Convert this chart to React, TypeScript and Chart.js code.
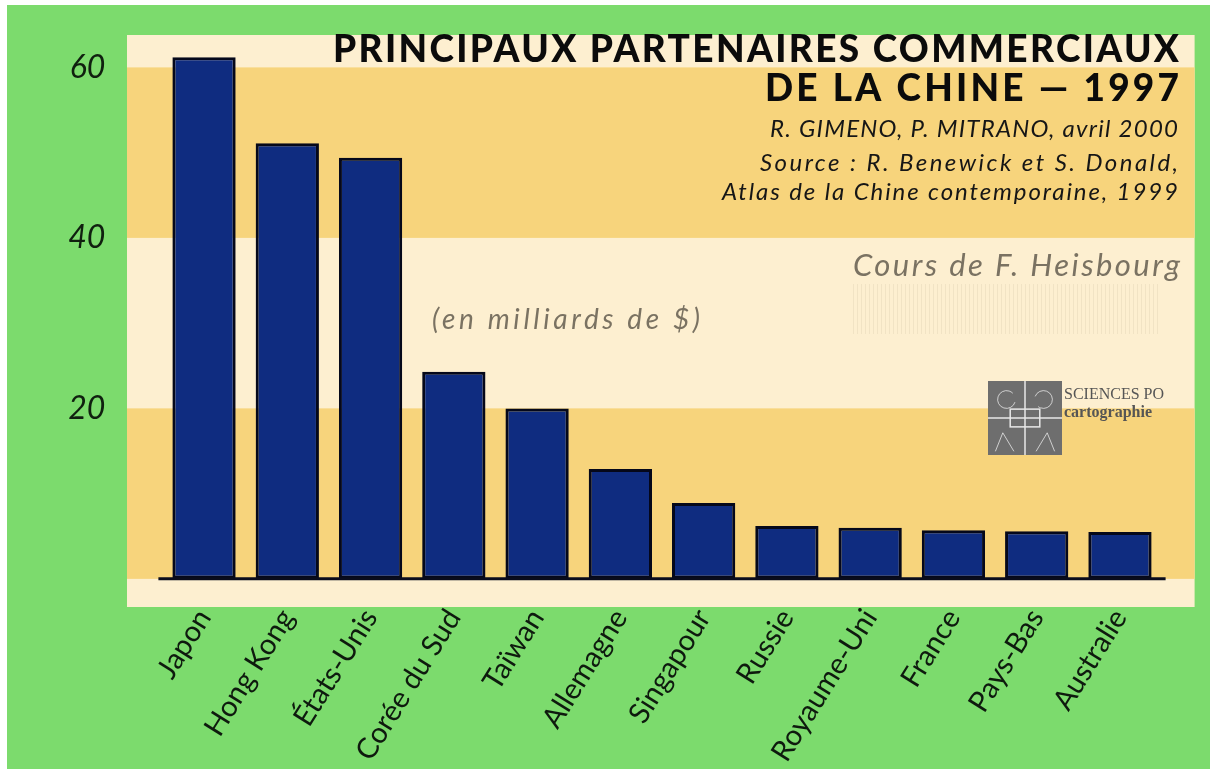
import { useEffect, useRef } from 'react';
import { Chart, registerables } from 'chart.js';

Chart.register(...registerables);

const CATEGORIES = [
  'Japon', 'Hong Kong', 'États-Unis', 'Corée du Sud', 'Taïwan', 'Allemagne',
  'Singapour', 'Russie', 'Royaume-Uni', 'France', 'Pays-Bas', 'Australie',
];
const VALUES = [61.2, 51.1, 49.4, 24.3, 20.0, 12.9, 8.9, 6.2, 6.0, 5.7, 5.6, 5.5];
const Y_TICKS = [20, 40, 60];
const Y_MIN = -3.3;
const Y_MAX = 63.8;
const YELLOW_BANDS = [[0, 20], [40, 60]];
const TITLE_LINES = ['PRINCIPAUX PARTENAIRES COMMERCIAUX', 'DE LA CHINE — 1997'];
const CREDIT_LINES = [
  'R. GIMENO, P. MITRANO, avril 2000',
  'Source : R. Benewick et S. Donald,',
  'Atlas de la Chine contemporaine, 1999',
];
const COURSE_TEXT = 'Cours de F. Heisbourg';
const UNIT_TEXT = '(en milliards de $)';
const LOGO_LINES = ['SCIENCES PO', 'cartographie'];

const FONT = 'Lato, "Noto Sans", sans-serif';
const OX = 7; // canvas offset in page
const OY = 5;

function fitText(ctx: CanvasRenderingContext2D, text: string, xRight: number, y: number, target: number) {
  (ctx as any).letterSpacing = '0px';
  const w = ctx.measureText(text).width;
  const n = Math.max(1, text.length - 1);
  let sp = (target - w) / n;
  sp = Math.max(-2, Math.min(6, sp));
  (ctx as any).letterSpacing = sp + 'px';
  ctx.textAlign = 'right';
  ctx.fillText(text, xRight + sp, y);
  (ctx as any).letterSpacing = '0px';
}

export default function App() {
  const ref = useRef<HTMLCanvasElement>(null);
  useEffect(() => {
    const canvas = ref.current!;
    const deco = {
      id: 'deco',
      beforeDraw(chart: any) {
        const { ctx, chartArea: ca } = chart;
        const ys = chart.scales.y;
        const left = ca.left - 35.4;
        const right = ca.right + 33;
        ctx.save();
        ctx.fillStyle = '#fdefd0';
        const top = ys.getPixelForValue(Y_MAX);
        const bot = ys.getPixelForValue(Y_MIN);
        ctx.fillRect(left, top, right - left, bot - top);
        ctx.fillStyle = '#f7d47c';
        for (const [a, b] of YELLOW_BANDS) {
          const y1 = ys.getPixelForValue(b);
          const y2 = ys.getPixelForValue(a);
          ctx.fillRect(left, y1, right - left, y2 - y1);
        }
        ctx.strokeStyle = 'rgba(215,200,170,0.3)';
        ctx.lineWidth = 1;
        for (let x = 853 - OX; x < 1160 - OX; x += 4) {
          ctx.beginPath();
          ctx.moveTo(x + 0.5, 284 - OY);
          ctx.lineTo(x + 0.5, 334 - OY);
          ctx.stroke();
        }
        ctx.restore();
      },
      afterDatasetsDraw(chart: any) {
        const { ctx, chartArea: ca } = chart;
        const y0 = chart.scales.y.getPixelForValue(0);
        ctx.save();
        ctx.strokeStyle = '#0a0c1c';
        ctx.lineWidth = 3;
        ctx.beginPath();
        ctx.moveTo(ca.left - 4, y0);
        ctx.lineTo(ca.right + 4, y0);
        ctx.stroke();
        ctx.restore();
      },
      afterDraw(chart: any) {
        const { ctx } = chart;
        ctx.save();
        ctx.textBaseline = 'alphabetic';
        ctx.fillStyle = '#0b0b0b';
        ctx.font = `900 37px ${FONT}`;
        fitText(ctx, TITLE_LINES[0], 1179 - OX, 62 - OY, 846);
        fitText(ctx, TITLE_LINES[1], 1179 - OX, 101 - OY, 414);
        ctx.fillStyle = '#161616';
        ctx.font = `italic 400 24px ${FONT}`;
        fitText(ctx, CREDIT_LINES[0], 1178 - OX, 137 - OY, 408);
        fitText(ctx, CREDIT_LINES[1], 1178 - OX, 171 - OY, 418);
        fitText(ctx, CREDIT_LINES[2], 1178 - OX, 200 - OY, 456);
        ctx.fillStyle = '#7a7262';
        ctx.font = `italic 400 31px ${FONT}`;
        fitText(ctx, COURSE_TEXT, 1180 - OX, 276 - OY, 327);
        ctx.font = `italic 400 28px ${FONT}`;
        fitText(ctx, UNIT_TEXT, 700 - OX, 329 - OY, 268);
        // logo
        const lx = 988 - OX, ly = 381 - OY, ls = 74;
        ctx.fillStyle = '#6e6e6e';
        ctx.fillRect(lx, ly, ls, ls);
        ctx.strokeStyle = '#e8e8e8';
        ctx.lineWidth = 1.5;
        ctx.beginPath();
        ctx.moveTo(lx + ls / 2, ly); ctx.lineTo(lx + ls / 2, ly + ls);
        ctx.moveTo(lx, ly + ls / 2); ctx.lineTo(lx + ls, ly + ls / 2);
        ctx.stroke();
        ctx.strokeRect(lx + ls * 0.3, ly + ls * 0.38, ls * 0.4, ls * 0.24);
        ctx.lineWidth = 1;
        ctx.strokeStyle = 'rgba(230,230,230,0.8)';
        ctx.beginPath();
        ctx.arc(lx + ls * 0.25, ly + ls * 0.25, ls * 0.12, 0.3, 5.5);
        ctx.stroke();
        ctx.beginPath();
        ctx.arc(lx + ls * 0.75, ly + ls * 0.25, ls * 0.12, 3.5, 8.5);
        ctx.stroke();
        ctx.beginPath();
        ctx.moveTo(lx + ls * 0.1, ly + ls * 0.95); ctx.lineTo(lx + ls * 0.2, ly + ls * 0.7); ctx.lineTo(lx + ls * 0.35, ly + ls * 0.95);
        ctx.moveTo(lx + ls * 0.65, ly + ls * 0.95); ctx.lineTo(lx + ls * 0.8, ly + ls * 0.7); ctx.lineTo(lx + ls * 0.9, ly + ls * 0.95);
        ctx.stroke();
        ctx.textAlign = 'left';
        ctx.fillStyle = '#555555';
        ctx.font = `400 16px "Liberation Serif", "DejaVu Serif", serif`;
        ctx.fillText(LOGO_LINES[0], 1064 - OX, 399 - OY);
        ctx.font = `700 16px "Liberation Serif", "DejaVu Serif", serif`;
        ctx.fillText(LOGO_LINES[1], 1064 - OX, 417 - OY);
        ctx.restore();
      },
    };
    const chart = new Chart(canvas, {
      type: 'bar',
      data: {
        labels: CATEGORIES,
        datasets: [{
          data: VALUES,
          backgroundColor: '#0f2c80',
          borderColor: '#05081a',
          borderWidth: 3,
          borderSkipped: false,
          barPercentage: 0.76,
          categoryPercentage: 1,
        }],
      },
      options: {
        responsive: false,
        maintainAspectRatio: false,
        animation: false,
        layout: { padding: { left: 0, right: 48.4, top: 30, bottom: 0 } },
        plugins: { legend: { display: false }, tooltip: { enabled: false }, title: { display: false } },
        scales: {
          x: {
            grid: { display: false },
            border: { display: false },
            ticks: {
              autoSkip: false, maxRotation: 58, minRotation: 58, padding: -12,
              color: '#0e1a0e', font: { family: FONT, size: 29 },
            },
            afterFit(s: any) {
              s.height = 162;
              s.paddingLeft = 0; s.paddingRight = 0; s.paddingTop = 0; s.paddingBottom = 0;
            },
          },
          y: {
            min: Y_MIN, max: Y_MAX,
            grid: { display: false },
            border: { display: false },
            afterBuildTicks(s: any) { s.ticks = Y_TICKS.map((v) => ({ value: v })); },
            ticks: {
              padding: 49, color: '#10200f',
              font: { family: FONT, size: 32, style: 'italic' },
            },
            afterFit(s: any) {
              s.width = 155.4;
              s.paddingLeft = 0; s.paddingRight = 0; s.paddingTop = 0; s.paddingBottom = 0;
            },
          },
        },
      },
      plugins: [deco],
    } as any);
    return () => chart.destroy();
  }, []);

  return (
    <div style={{ position: 'fixed', inset: 0, background: '#ffffff' }}>
      <div style={{ position: 'absolute', left: OX, top: OY, width: 1203, height: 764, background: '#7cdb6d' }}>
        <canvas ref={ref} width={1203} height={764} style={{ display: 'block' }} />
      </div>
    </div>
  );
}
